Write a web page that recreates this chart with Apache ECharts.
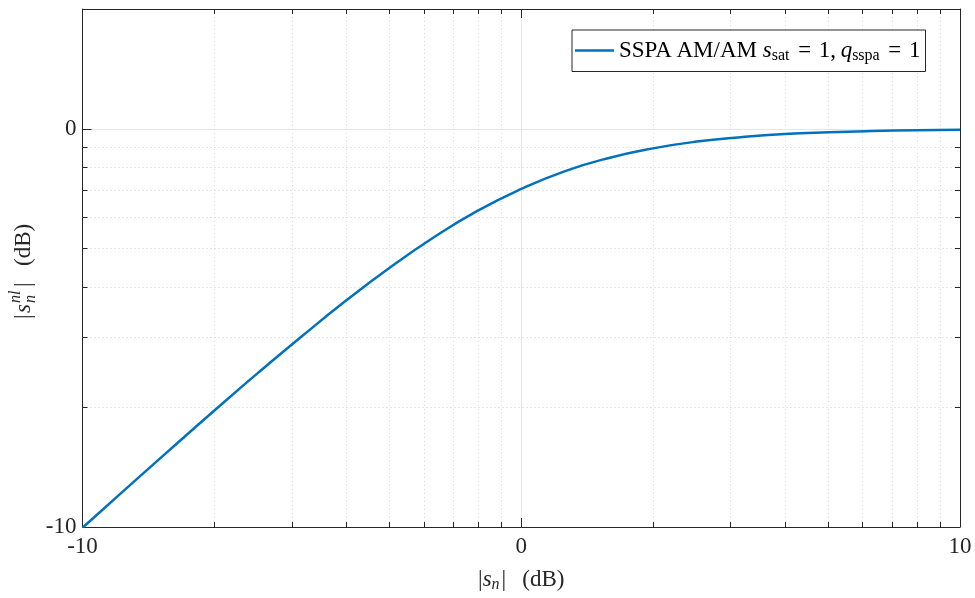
<!DOCTYPE html>
<html>
<head>
<meta charset="utf-8">
<script src="https://cdn.jsdelivr.net/npm/echarts@6/dist/echarts.min.js"></script>
<style>
html,body{margin:0;padding:0;background:#fff;}
#chart{width:975px;height:598px;}
</style>
</head>
<body>
<div id="chart"></div>
<script>
// |s_n| in dB (x) and |s_n^nl| in dB (y)
const inputDb  = [-10, -9, -8, -7, -6, -5, -4, -3, -2, -1, 0, 1, 2, 3, 4, 5, 6, 7, 8, 9, 10];
const outputDb = [-10.02, -9.03, -8.05, -7.08, -6.13, -5.21, -4.32, -3.49, -2.73, -2.06, -1.51,
                  -1.06, -0.73, -0.49, -0.32, -0.21, -0.13, -0.085, -0.054, -0.034, -0.022];

const xMajorTicks = [-10, 0, 10];
const yMajorTicks = [-10, 0];
const xMinorTicks = [-6.9897, -5.2288, -3.9794, -3.0103, -2.2185, -1.5490, -0.9691, -0.4576,
                     3.0103, 4.7712, 6.0206, 6.9897, 7.7815, 8.4510, 9.0309, 9.5424];
const yMinorTicks = [-6.9897, -5.2288, -3.9794, -3.0103, -2.2185, -1.5490, -0.9691, -0.4576];
const xRange = [-10, 10];
const yRange = [-10, 3.0103];
const seriesName = 'SSPA AM/AM';

const FONT = '"Liberation Serif", "DejaVu Serif", serif';
const AX = '#262626';
const FS = 23;

function xAxisDef(pos, major, withLabels) {
  return {
    type: 'value', position: pos, min: xRange[0], max: xRange[1], interval: 10,
    axisLine: { show: major, onZero: false, lineStyle: { color: AX, width: 1 } },
    axisTick: { show: true, inside: true, length: major ? 9 : 5,
      customValues: major ? xMajorTicks : xMinorTicks, lineStyle: { color: AX, width: 1 } },
    axisLabel: { show: withLabels, customValues: xMajorTicks, color: AX, fontFamily: FONT, fontSize: FS, margin: 8 },
    splitLine: { show: withLabels || !major, lineStyle: major ? { color: '#e6e6e6', width: 1, type: 'solid' } : { color: '#dcdcdc', width: 1, type: [1, 3] } },
    name: withLabels ? '{b||}{i|s}{sb|n}{b||}{b|\u2002\u2009(dB)}' : '',
    nameLocation: 'middle', nameGap: 40,
    nameTextStyle: { color: AX, fontFamily: FONT, fontSize: FS,
      rich: {
        b: { fontFamily: FONT, fontSize: FS, color: AX },
        i: { fontFamily: FONT, fontSize: FS, color: AX, fontStyle: 'italic' },
        sb: { fontFamily: FONT, fontSize: 16, color: AX, fontStyle: 'italic', padding: [10, 2, 0, 0] }
      } }
  };
}
function yAxisDef(pos, major, withLabels) {
  return {
    type: 'value', position: pos, min: yRange[0], max: yRange[1], interval: 10,
    axisLine: { show: major, onZero: false, lineStyle: { color: AX, width: 1 } },
    axisTick: { show: true, inside: true, length: major ? 9 : 5,
      customValues: major ? yMajorTicks : yMinorTicks, lineStyle: { color: AX, width: 1 } },
    axisLabel: { show: withLabels, customValues: yMajorTicks, color: AX, fontFamily: FONT, fontSize: FS, margin: 6 },
    splitLine: { show: withLabels || !major, lineStyle: major ? { color: '#e6e6e6', width: 1, type: 'solid' } : { color: '#dcdcdc', width: 1, type: [1, 3] } }
  };
}

const chart = echarts.init(document.getElementById('chart'), null, { renderer: 'canvas' });
chart.setOption({
  backgroundColor: '#ffffff',
  animation: false,
  grid: { left: 82.5, right: 15, top: 9, bottom: 70, containLabel: false },
  xAxis: [ xAxisDef('bottom', true, true), xAxisDef('top', true, false),
           xAxisDef('bottom', false, false), xAxisDef('top', false, false) ],
  yAxis: [ yAxisDef('left', true, true), yAxisDef('right', true, false),
           yAxisDef('left', false, false), yAxisDef('right', false, false) ],
  legend: {
    left: 572, top: 30, orient: 'horizontal',
    backgroundColor: '#ffffff', borderColor: AX, borderWidth: 1, borderRadius: 0,
    padding: [9, 5, 8, 3], itemWidth: 39, itemHeight: 14,
    data: [{ name: seriesName, icon: 'path://M0,6 L39,6 L39,8.5 L0,8.5 Z' }],
    formatter: function () {
      return '{r|SSPA\u2009AM/AM }{i|s}{sb|sat}{r|\u2004=\u20041,\u2009}{i|q}{sb|sspa}{r|\u2004=\u20041}';
    },
    textStyle: {
      color: '#000', fontFamily: FONT, fontSize: FS,
      rich: {
        r: { fontFamily: FONT, fontSize: FS, color: '#000' },
        i: { fontFamily: FONT, fontSize: FS, color: '#000', fontStyle: 'italic' },
        sb: { fontFamily: FONT, fontSize: 16, color: '#000', padding: [10, 1, 0, 0] }
      }
    }
  },
  graphic: [{
    type: 'group', x: 24, y: 268, rotation: Math.PI / 2,
    children: [
      { type: 'text', x: -51, y: 0, style: { text: '|', font: FS + 'px ' + FONT, fill: AX, textVerticalAlign: 'middle' } },
      { type: 'text', x: -45, y: 0, style: { text: 's', font: 'italic ' + FS + 'px ' + FONT, fill: AX, textVerticalAlign: 'middle' } },
      { type: 'text', x: -35, y: -8, style: { text: 'nl', font: 'italic 16px ' + FONT, fill: AX, textVerticalAlign: 'middle' } },
      { type: 'text', x: -35, y: 7, style: { text: 'n', font: 'italic 16px ' + FONT, fill: AX, textVerticalAlign: 'middle' } },
      { type: 'text', x: -19, y: 0, style: { text: '|', font: FS + 'px ' + FONT, fill: AX, textVerticalAlign: 'middle' } },
      { type: 'text', x: 2, y: 0, style: { text: '(dB)', font: FS + 'px ' + FONT, fill: AX, textVerticalAlign: 'middle' } }
    ]
  }],
  series: [{
    name: seriesName, type: 'line', xAxisIndex: 0, yAxisIndex: 0,
    data: inputDb.map((x, i) => [x, outputDb[i]]),
    smooth: true, symbol: 'none', clip: true,
    lineStyle: { color: '#0072BD', width: 2.5 },
    itemStyle: { color: '#0072BD' }
  }]
});
</script>
</body>
</html>
